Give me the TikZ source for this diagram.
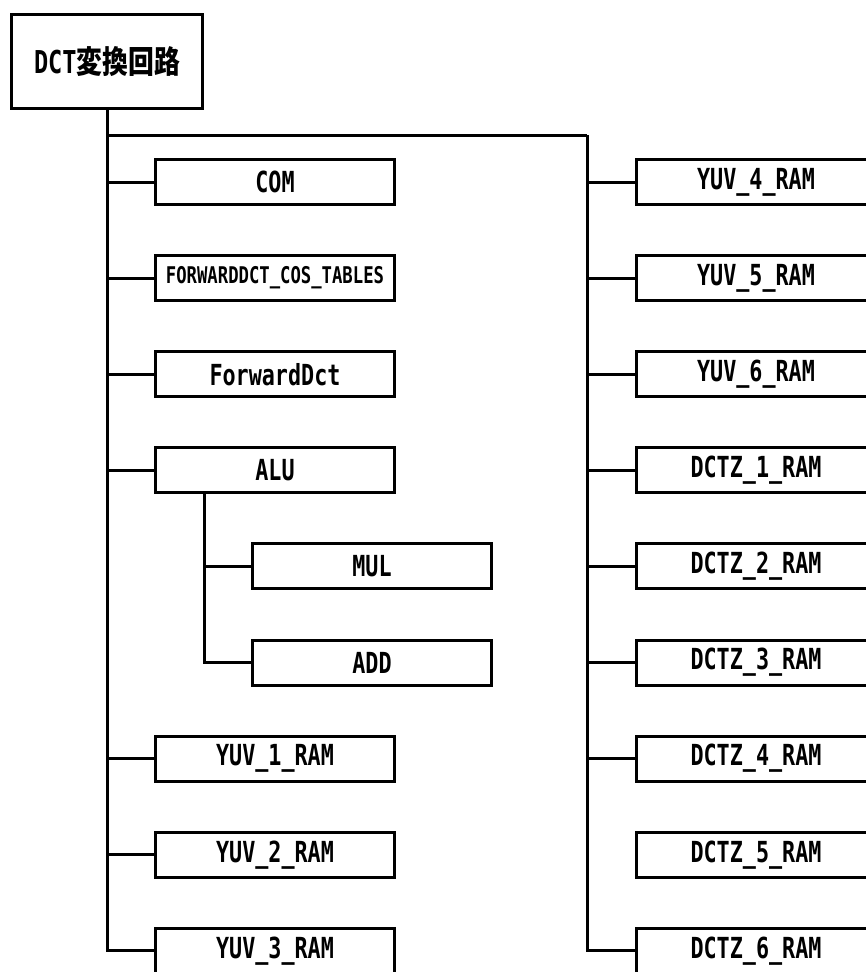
\documentclass[tikz,border=0pt]{standalone}
\usepackage{fontspec}
\usepackage{tikz}
\usetikzlibrary{positioning}
\newfontfamily\monofont[FakeStretch=0.75]{DejaVu Sans Mono}
\newfontfamily\cjkfont[FakeStretch=0.82]{Noto Sans CJK JP}
\newcommand\boxfont{\monofont\bfseries\fontsize{29}{31}\selectfont}
\newcommand\smallboxfont{\monofont\bfseries\fontsize{23}{25}\selectfont}
\newcommand\rootfont{\bfseries\fontsize{31.5}{33}\selectfont}

\begin{document}
\begin{tikzpicture}[
  x=1pt, y=1pt, line width=3pt,
  rootbox/.style={draw, minimum width=191pt, minimum height=94pt,
                  inner sep=0pt, font=\rootfont},
  box/.style={draw, minimum width=239pt, minimum height=45pt,
              inner sep=0pt, font=\boxfont}
]
  \useasboundingbox (0,0) rectangle (866,-972);

  \node[rootbox] (root) at (107,-61.5) {{\monofont DCT}{\cjkfont 変換回路}};

  % left column
  \node[box] (com) at (275,-182) {COM};
  \node[box, font=\smallboxfont, below=48.1pt of com] (cos) {FORWARDDCT\_COS\_TABLES};
  \node[box, below=48.1pt of cos] (fdct) {ForwardDct};
  \node[box, below=48.1pt of fdct] (alu) {ALU};
  \node[box, below=48.1pt of alu, xshift=97pt] (mul) {MUL};
  \node[box, below=48.1pt of mul] (add) {ADD};
  \node[box, below=48.1pt of add, xshift=-97pt] (yuv1) {YUV\_1\_RAM};
  \node[box, below=48.1pt of yuv1] (yuv2) {YUV\_2\_RAM};
  \node[box, below=48.1pt of yuv2] (yuv3) {YUV\_3\_RAM};

  % right column
  \node[box, right=239pt of com] (yuv4) {YUV\_4\_RAM};
  \node[box, below=48.1pt of yuv4] (yuv5) {YUV\_5\_RAM};
  \node[box, below=48.1pt of yuv5] (yuv6) {YUV\_6\_RAM};
  \node[box, below=48.1pt of yuv6] (dctz1) {DCTZ\_1\_RAM};
  \node[box, below=48.1pt of dctz1] (dctz2) {DCTZ\_2\_RAM};
  \node[box, below=48.1pt of dctz2] (dctz3) {DCTZ\_3\_RAM};
  \node[box, below=48.1pt of dctz3] (dctz4) {DCTZ\_4\_RAM};
  \node[box, below=48.1pt of dctz4] (dctz5) {DCTZ\_5\_RAM};
  \node[box, below=48.1pt of dctz5] (dctz6) {DCTZ\_6\_RAM};

  \coordinate (rbus) at (587,-135);
  \coordinate (alubus) at ([xshift=50pt]alu.south west);

  % connectors
  \foreach \n in {com,cos,fdct,alu,yuv1,yuv2,yuv3}
    \draw (root.south) |- (\n.west);
  \draw (root.south) |- (rbus);
  \foreach \n in {yuv4,yuv5,yuv6,dctz1,dctz2,dctz3,dctz4,dctz6}
    \draw (rbus) |- (\n.west);
  \draw (alubus) |- (mul.west);
  \draw (alubus) |- (add.west);
\end{tikzpicture}
\end{document}
